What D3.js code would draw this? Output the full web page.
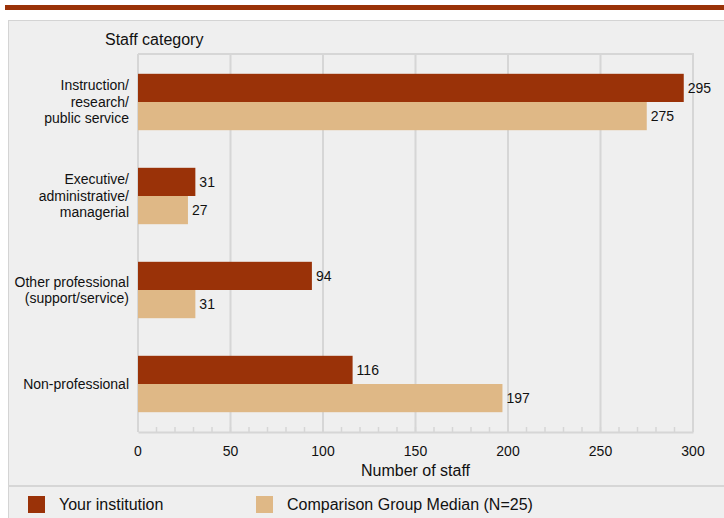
<!DOCTYPE html>
<html>
<head>
<meta charset="utf-8">
<script src="https://cdn.jsdelivr.net/npm/d3@7"></script>
<style>
  body { margin: 0; background: #fff; }
  svg { display: block; font-family: "Liberation Sans", Arial, sans-serif; }
</style>
</head>
<body>
<div id="chart"></div>
<script>
// Datos
const categorias = [
    ["Instruction/", "research/", "public service"],
    ["Executive/", "administrative/", "managerial"],
    ["Other professional", "(support/service)"],
    ["Non-professional"]
]
const institucion = [295, 31, 94, 116]
const mediana = [275, 27, 31, 197]
const series = ["Your institution", "Comparison Group Median (N=25)"]
const colores = ["#9a3208", "#dfb886"]
const ticks = [0, 50, 100, 150, 200, 250, 300]

// Constantes
const width = 724
const height = 518
const plot = { left: 138, right: 693, top: 54, bandTop: 55, bottom: 431 }

const svg = d3.select("#chart").append("svg")
    .attr("width", width)
    .attr("height", height)

// franja superior
svg.append("rect").attr("x", 5).attr("y", 5).attr("width", width - 5).attr("height", 5).attr("fill", "#9a3208")

// panel
svg.append("rect")
    .attr("x", 8.5).attr("y", 20.5)
    .attr("width", width).attr("height", height)
    .attr("fill", "#efefef")
    .attr("stroke", "#d4d4d4")

svg.append("text")
    .attr("x", 105).attr("y", 45)
    .style("font-size", "16px")
    .attr("fill", "#111")
    .text("Staff category")

// Escalas
const x = d3.scaleLinear().domain([0, 300]).range([plot.left, plot.right])
const y = d3.scaleBand().domain(d3.range(categorias.length))
    .range([plot.bandTop, plot.bottom]).paddingInner(0.4).paddingOuter(0.2)
const yS = d3.scaleBand().domain([0, 1]).range([0, y.bandwidth()])

// Rejilla
svg.append("g").selectAll("line")
    .data(ticks)
    .join("line")
    .attr("x1", d => x(d)).attr("x2", d => x(d))
    .attr("y1", plot.top).attr("y2", plot.bottom + 1)
    .attr("stroke", "#d6d6d6")
    .attr("stroke-width", 2)

svg.append("line")
    .attr("x1", plot.left).attr("x2", plot.right + 1)
    .attr("y1", plot.top).attr("y2", plot.top)
    .attr("stroke", "#d6d6d6").attr("stroke-width", 2)

// Eje x
const xAxis = d3.axisBottom(x).tickValues(d3.range(0, 301, 10)).tickSize(0).tickFormat("")
const xAxisGroup = svg.append("g").attr("transform", `translate(0, ${plot.bottom + 1})`).call(xAxis)
xAxisGroup.select(".domain").attr("stroke", "#d6d6d6").attr("stroke-width", 2)
svg.append("g").selectAll("line")
    .data(d3.range(0, 301, 10))
    .join("line")
    .attr("x1", d => x(d)).attr("x2", d => x(d))
    .attr("y1", plot.bottom - 4).attr("y2", plot.bottom + 1)
    .attr("stroke", "#d6d6d6").attr("stroke-width", 1.5)

svg.append("g").selectAll("text")
    .data(ticks)
    .join("text")
    .attr("x", d => x(d))
    .attr("y", 456)
    .attr("text-anchor", "middle")
    .style("font-size", "14px")
    .attr("fill", "#111")
    .text(d => d)

svg.append("text")
    .attr("x", (plot.left + plot.right) / 2)
    .attr("y", 476)
    .attr("text-anchor", "middle")
    .style("font-size", "16px")
    .attr("fill", "#111")
    .text("Number of staff")

// Barras
const grupos = svg.append("g").selectAll("g")
    .data(categorias.map((c, i) => ({ c, i, vals: [institucion[i], mediana[i]] })))
    .join("g")
    .attr("transform", d => `translate(0, ${y(d.i)})`)

grupos.selectAll("rect")
    .data(d => d.vals)
    .join("rect")
    .attr("x", x(0))
    .attr("y", (d, j) => yS(j))
    .attr("width", d => x(d) - x(0))
    .attr("height", yS.bandwidth())
    .attr("fill", (d, j) => colores[j])

grupos.selectAll("text.valor")
    .data(d => d.vals)
    .join("text")
    .attr("class", "valor")
    .attr("x", d => x(d) + 4)
    .attr("y", (d, j) => yS(j) + yS.bandwidth() / 2)
    .attr("dy", "0.35em")
    .style("font-size", "14px")
    .attr("fill", "#111")
    .text(d => d)

// Etiquetas de categoria
grupos.append("text")
    .attr("text-anchor", "end")
    .style("font-size", "14px")
    .attr("fill", "#111")
    .each(function(d) {
        const n = d.c.length
        d3.select(this).selectAll("tspan")
            .data(d.c)
            .join("tspan")
            .attr("x", 129)
            .attr("y", (t, k) => y.bandwidth() / 2 + (k - (n - 1) / 2) * 16.5)
            .attr("dy", "0.35em")
            .text(t => t)
    })

// Leyenda
svg.append("line")
    .attr("x1", 8).attr("x2", width)
    .attr("y1", 486).attr("y2", 486)
    .attr("stroke", "#d6d6d6").attr("stroke-width", 2)

const leyenda = svg.append("g").selectAll("g")
    .data(series)
    .join("g")
    .attr("transform", (d, i) => `translate(${i === 0 ? 28 : 256}, 496)`)

leyenda.append("rect")
    .attr("width", 17).attr("height", 17)
    .attr("fill", (d, i) => colores[i])

leyenda.append("text")
    .attr("x", 31).attr("y", 8.5)
    .attr("dy", "0.35em")
    .style("font-size", "16px")
    .attr("fill", "#111")
    .text(d => d)
</script>
</body>
</html>
